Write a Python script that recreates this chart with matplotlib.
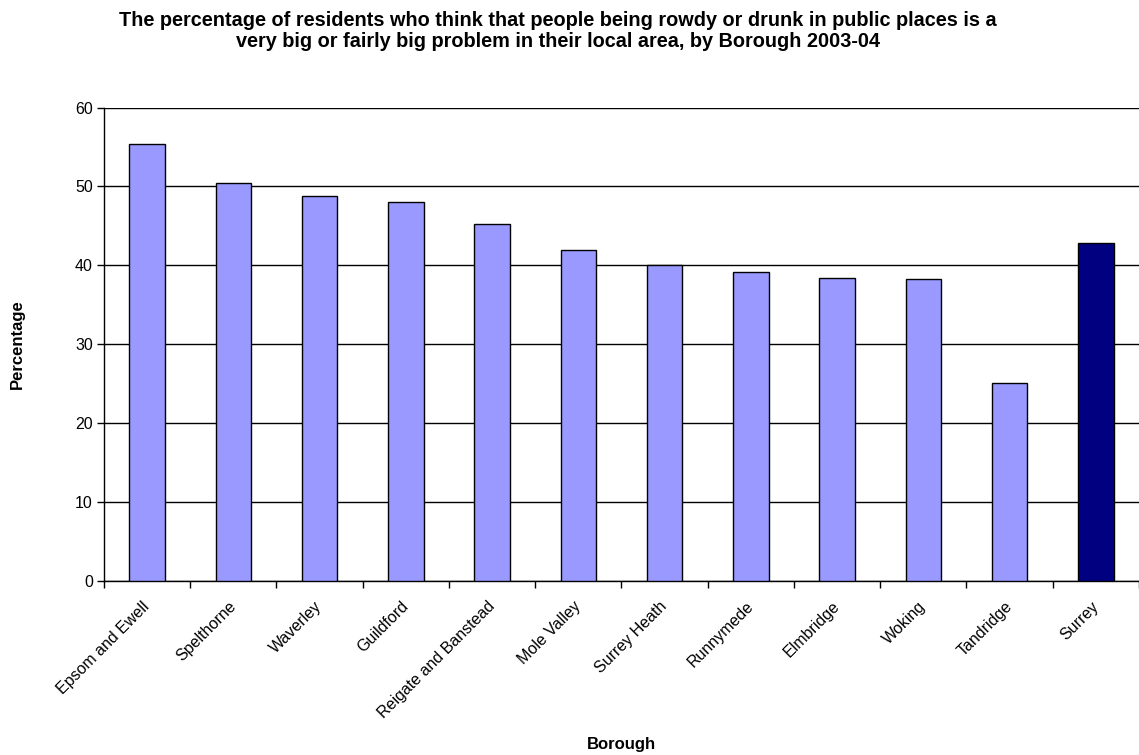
import numpy as np
import matplotlib
matplotlib.use("Agg")
import matplotlib.pyplot as plt

# Chart data
boroughs = ["Epsom and Ewell", "Spelthorne", "Waverley", "Guildford",
            "Reigate and Banstead", "Mole Valley", "Surrey Heath", "Runnymede",
            "Elmbridge", "Woking", "Tandridge", "Surrey"]
percentages = [55.4, 50.4, 48.8, 48.0, 45.2, 42.0, 40.0, 39.1, 38.35, 38.2, 25.0, 42.8]
bar_colours = ["#9999FF"] * 11 + ["#000080"]
y_ticks = [0, 10, 20, 30, 40, 50, 60]

plt.rcParams['font.family'] = ['Liberation Sans', 'DejaVu Sans']

fig = plt.figure(figsize=(11.39, 7.55), dpi=100)
ax = fig.add_axes([0.0913, 0.2311, 0.9087, 0.6263])

x = np.arange(len(boroughs))
ax.bar(x, percentages, width=0.41, color=bar_colours, edgecolor='black',
       linewidth=1.0, zorder=3)

ax.set_xlim(-0.5, len(boroughs) - 0.5)
ax.set_ylim(0, 60)
ax.set_yticks(y_ticks)
ax.tick_params(axis='y', direction='out', length=5, width=1, labelsize=11.5, pad=3)
ax.yaxis.grid(True, color='black', linewidth=1.0, zorder=0)

# category labels at bar centres, tick marks between categories
ax.set_xticks(x)
ax.set_xticklabels(boroughs, rotation=45, ha='right', va='center',
                   rotation_mode='anchor', fontsize=11.5)
ax.tick_params(axis='x', which='major', length=0, pad=17)
ax.set_xticks(np.arange(len(boroughs) + 1) - 0.5, minor=True)
ax.tick_params(axis='x', which='minor', direction='out', length=5, width=1)

for side in ['top', 'right']:
    ax.spines[side].set_visible(False)
for side in ['left', 'bottom']:
    ax.spines[side].set_linewidth(1.0)

ax.set_ylabel('Percentage', fontsize=12, fontweight='bold', labelpad=36)
ax.set_xlabel('Borough', fontsize=12, fontweight='bold', va='center')
ax.xaxis.set_label_coords(0.5, -0.347)

fig.text(0.49, 0.985, "The percentage of residents who think that people being rowdy or drunk in public places is a\n"
         "very big or fairly big problem in their local area, by Borough 2003-04",
         ha='center', va='top', fontsize=14.3, fontweight='bold', linespacing=1.1)

fig.savefig('out.png', dpi=100)
